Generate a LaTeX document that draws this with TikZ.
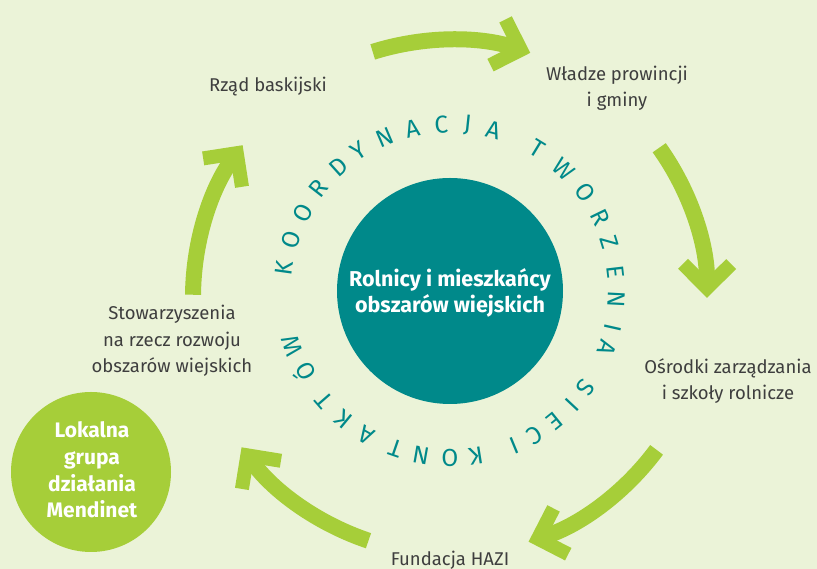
\documentclass[tikz,border=0pt]{standalone}
\usepackage{fontspec}
\setmainfont{Fira Sans}
\usetikzlibrary{decorations.markings}
\definecolor{bg}{HTML}{EBF3D8}
\definecolor{lime}{HTML}{A6CE39}
\definecolor{tealc}{HTML}{00898A}
\definecolor{txt}{HTML}{3E3E3E}
\tikzset{
  lbl/.style={text=txt, font=\fontsize{18.5}{26.5}\selectfont, align=center, inner sep=0pt, anchor=base},
  ringletter/.style={text=tealc, font=\fontsize{24.5}{24.5}\selectfont, inner sep=0pt},
  shaft/.style={draw=lime, line width=16pt, line cap=butt, shorten >=18pt},
  headmark/.style={postaction={decorate}, decoration={markings,
     mark=at position 1 with {\fill[lime] (0pt,0pt) -- (-29pt,29pt) -- (-38.9pt,19.1pt) -- (-19.8pt,0pt) -- (-38.9pt,-19.1pt) -- (-29pt,-29pt) -- cycle;}}}
}
\begin{document}
\begin{tikzpicture}[x=1pt,y=1pt]
\useasboundingbox (0,0) rectangle (817,569);
\fill[bg] (0,0) rectangle (817,569);
% central hub
\node[circle, fill=tealc, minimum size=226pt, inner sep=0pt] (hub) at (450,278) {};
\node[text=white, font=\fontsize{21.5}{26}\selectfont\bfseries, align=center, inner sep=0pt, anchor=base] (hubtxt) at (450,256) {Rolnicy i mieszkańcy\\obszarów wiejskich};
% ring text
\foreach \a/\l [count=\i] in {172/K,162/O,152/O,142/R,132/D,123/Y,113/N,103/A,93/C,84/J,75/A,
  58.6/T,47/W,36/O,26/R,17/Z,6.6/E,-3/N,-12.7/I,-20/A,
  -35.5/S,-43/I,-51/E,-59.5/C,-67.5/I,
  -81/K,-90/O,-100/N,-109/T,-120/A,-129.5/K,-139/T,-151/Ó,-161/W}
  \node[ringletter, rotate=\a-90] (r\i) at ([shift={(\a:167pt)}]hub.center) {\l};
% arrows
\coordinate (ctr) at (450,272);
\foreach \k in {0,...,4} {
  \pgfmathsetmacro\sa{107.5-72*\k}
  \pgfmathsetmacro\ea{71.8-72*\k}
  \draw[shaft] ([shift={(\sa:257pt)}]ctr) arc[start angle=\sa, end angle=\ea, radius=257pt];
  \path[headmark] ([shift={(\sa:257pt)}]ctr) arc[start angle=\sa, end angle=\ea, radius=257pt];
}
% labels
\node[lbl] (rzad) at (268,477) {Rząd baskijski};
\node[lbl] (wladze) at (617,462) {Władze prowincji\\i gminy};
\node[lbl] (osrodki) at (728,169) {Ośrodki zarządzania\\i szkoły rolnicze};
\node[lbl] (hazi) at (450,3) {Fundacja HAZI};
\node[lbl] (stow) at (172,196) {Stowarzyszenia\\na rzecz rozwoju\\obszarów wiejskich};
% local group
\node[circle, fill=lime, minimum size=160pt, inner sep=0pt] (lgd) at (91,97) {};
\node[text=white, font=\fontsize{21}{26.7}\selectfont\bfseries, align=center, inner sep=0pt, anchor=base] (lgdtxt) at (92,51) {Lokalna\\grupa\\działania\\Mendinet};
\end{tikzpicture}
\end{document}
